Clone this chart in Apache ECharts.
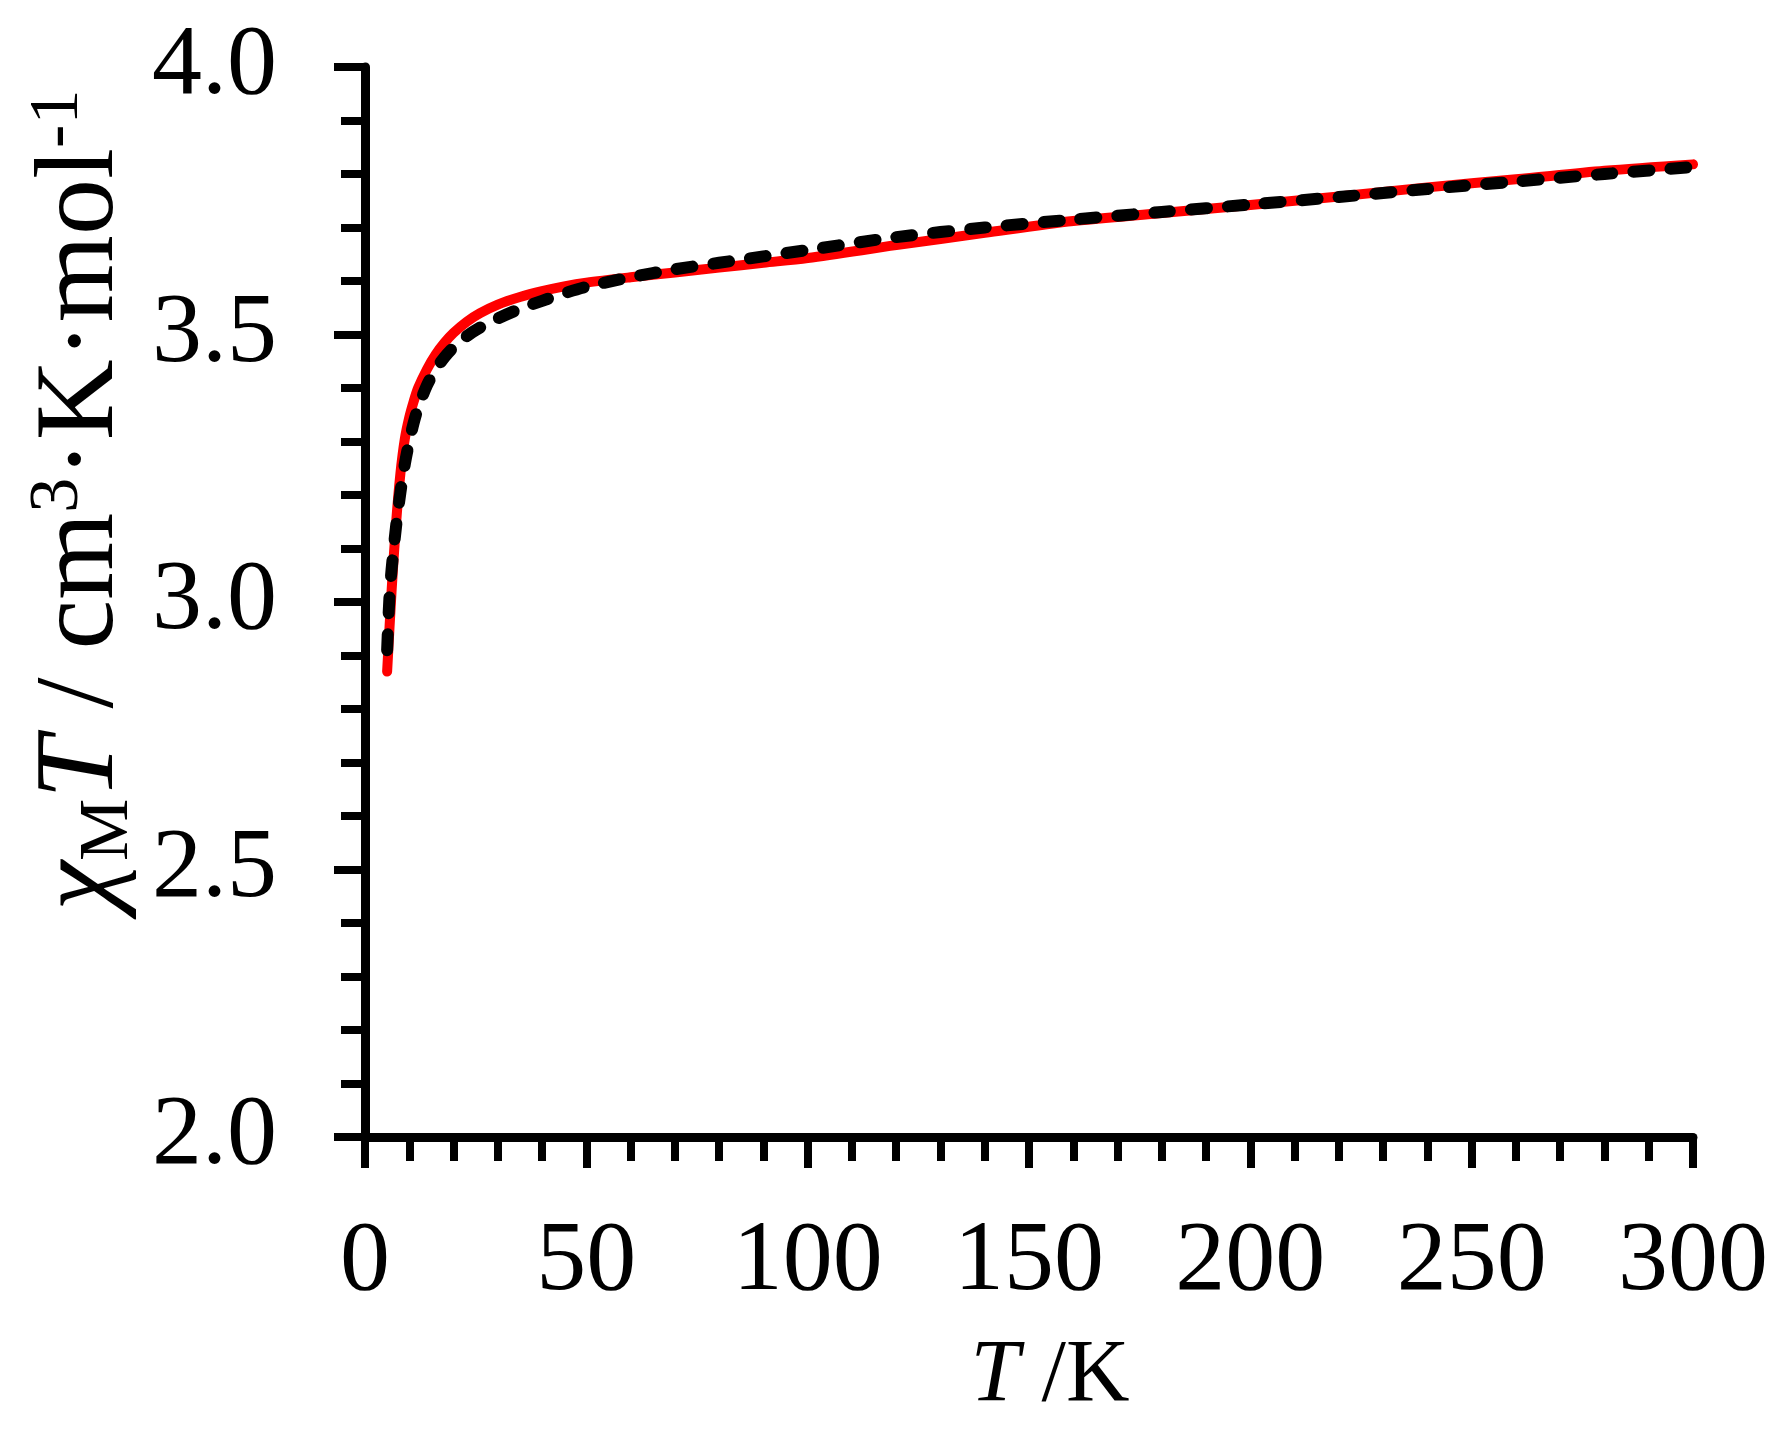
<!DOCTYPE html>
<html>
<head>
<meta charset="utf-8">
<script src="https://cdn.jsdelivr.net/npm/echarts@6/dist/echarts.min.js"></script>
<style>
html,body{margin:0;padding:0;background:#fff;}
#chart{width:1784px;height:1440px;}
</style>
</head>
<body>
<div id="chart"></div>
<script>
// Temperature (K) and chi_M*T (cm3 K mol-1)
const expT = [5, 6, 7, 8, 9, 10, 11, 12, 14, 16, 18, 20, 23, 26, 30, 35, 40, 45, 50, 60, 70, 80, 90, 100, 120, 140, 160, 180, 200, 220, 240, 260, 280, 300];
const expChiT = [2.87, 3.02, 3.145, 3.24, 3.305, 3.345, 3.375, 3.40, 3.435, 3.463, 3.485, 3.503, 3.524, 3.540, 3.556, 3.570, 3.581, 3.590, 3.597, 3.607, 3.616, 3.625, 3.634, 3.643, 3.667, 3.69, 3.712, 3.727, 3.742, 3.758, 3.775, 3.79, 3.806, 3.818];
const fitT = [5, 5.5, 6, 7, 8, 9, 10, 11, 12, 14, 16, 18, 20, 23, 26, 30, 35, 40, 45, 50, 60, 70, 80, 90, 100, 120, 140, 160, 180, 200, 220, 240, 260, 280, 300];
const fitChiT = [2.91, 3.005, 3.06, 3.14, 3.205, 3.258, 3.30, 3.335, 3.363, 3.405, 3.435, 3.458, 3.476, 3.497, 3.513, 3.530, 3.548, 3.563, 3.577, 3.589, 3.607, 3.622, 3.634, 3.646, 3.658, 3.682, 3.70, 3.715, 3.729, 3.743, 3.757, 3.772, 3.786, 3.80, 3.813];
const xTicks = [0, 50, 100, 150, 200, 250, 300];
const yTicks = [2.0, 2.5, 3.0, 3.5, 4.0];

const FONT = "'Liberation Serif', 'Times New Roman', serif";
const chart = echarts.init(document.getElementById('chart'), null, {renderer: 'canvas'});

function pairs(xs, ys) { return xs.map((x, i) => [x, ys[i]]); }

const axisCommon = {
  axisLine: {show: true, onZero: false, lineStyle: {color: '#000', width: 9}},
  axisTick: {show: true, inside: false, length: 31, lineStyle: {color: '#000', width: 8}},
  minorTick: {show: true, splitNumber: 5, length: 24, lineStyle: {color: '#000', width: 8}},
  splitLine: {show: false},
  minorSplitLine: {show: false}
};

chart.setOption({
  animation: false,
  backgroundColor: '#fff',
  grid: {left: 365, right: 91, top: 67, bottom: 303, containLabel: false},
  xAxis: Object.assign({
    type: 'value',
    min: xTicks[0],
    max: xTicks[xTicks.length - 1],
    interval: 50,
    axisLabel: {color: '#000', fontFamily: FONT, fontSize: 100, margin: 76,
      formatter: v => String(v)}
  }, axisCommon),
  yAxis: Object.assign({
    type: 'value',
    min: yTicks[0],
    max: yTicks[yTicks.length - 1],
    interval: 0.5,
    axisLabel: {color: '#000', fontFamily: FONT, fontSize: 100, margin: 88,
      formatter: v => v.toFixed(1)}
  }, axisCommon),
  graphic: [
    {
      type: 'text',
      x: 83, y: 500,
      rotation: Math.PI / 2,
      style: {
        text: '{it|χ}{sub|M}{it|T} / cm{sup|3}·K·mol{sup|-1}',
        fontFamily: FONT, fontSize: 112, fill: '#000',
        align: 'center', verticalAlign: 'middle',
        rich: {
          it: {fontFamily: FONT, fontSize: 112, fontStyle: 'italic', lineHeight: 134, fill: '#000'},
          sub: {fontFamily: FONT, fontSize: 70, lineHeight: 134, verticalAlign: 'bottom', padding: [0, 0, 6, 0], fill: '#000'},
          sup: {fontFamily: FONT, fontSize: 70, lineHeight: 134, verticalAlign: 'top', padding: [8, 0, 0, 0], fill: '#000'}
        }
      }
    },
    {
      type: 'text',
      x: 1050, y: 1377,
      style: {
        text: '{it|T} /K',
        fontFamily: FONT, fontSize: 88, fill: '#000',
        align: 'center', verticalAlign: 'middle',
        rich: {
          it: {fontFamily: FONT, fontSize: 88, fontStyle: 'italic', fill: '#000'}
        }
      }
    }
  ],
  series: [
    {
      type: 'line',
      name: 'exp',
      data: pairs(expT, expChiT),
      smooth: 0.3,
      showSymbol: false,
      lineStyle: {color: '#ff0000', width: 10, cap: 'round', join: 'round'},
      z: 2
    },
    {
      type: 'line',
      name: 'fit',
      data: pairs(fitT, fitChiT),
      smooth: 0.3,
      showSymbol: false,
      lineStyle: {color: '#000', width: 12, type: [16, 21], cap: 'round', join: 'round'},
      z: 3
    }
  ]
});
</script>
</body>
</html>
